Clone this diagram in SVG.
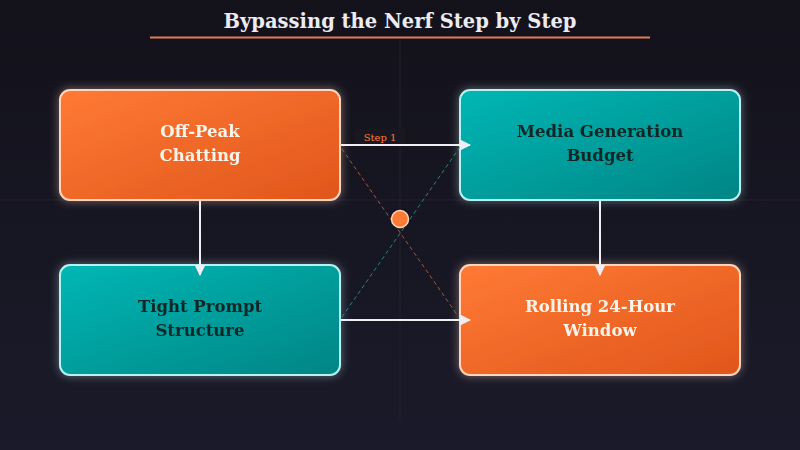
<svg xmlns="http://www.w3.org/2000/svg" width="800" height="450" viewBox="0 0 800 450">
<style>
.title{font-family:Georgia,"DejaVu Serif",serif;font-weight:bold;font-size:19.5px;fill:#ecebf2;text-anchor:middle}
.lbl{font-family:Georgia,"DejaVu Serif",serif;font-weight:bold;font-size:16.5px;text-anchor:middle}
.lo{fill:#fff3ea}
.lt{fill:#0c2626}
.bo{fill:url(#gO);stroke:#ffd6bd;stroke-width:2}
.bt{fill:url(#gT);stroke:#b8f2f0;stroke-width:2}
.conn{stroke:#eeeef4;stroke-width:2;fill:none;marker-end:url(#ah)}
.step{font-family:Georgia,"DejaVu Serif",serif;font-size:10px;fill:#ff7a35;text-anchor:middle}
</style>
<defs>
<linearGradient id="gO" x1="0" y1="0" x2="1" y2="1">
<stop offset="0" stop-color="#ff7a35"/><stop offset="1" stop-color="#e0561b"/>
</linearGradient>
<linearGradient id="gT" x1="0" y1="0" x2="1" y2="1">
<stop offset="0" stop-color="#00b7b5"/><stop offset="1" stop-color="#008584"/>
</linearGradient>
<filter id="glowO" x="-20%" y="-30%" width="140%" height="160%">
<feGaussianBlur in="SourceAlpha" stdDeviation="5" result="b"/>
<feFlood flood-color="#ffcfb0" flood-opacity="0.45"/>
<feComposite in2="b" operator="in" result="g"/>
<feMerge><feMergeNode in="g"/><feMergeNode in="SourceGraphic"/></feMerge>
</filter>
<filter id="glowT" x="-20%" y="-30%" width="140%" height="160%">
<feGaussianBlur in="SourceAlpha" stdDeviation="5" result="b"/>
<feFlood flood-color="#c8f5f2" flood-opacity="0.4"/>
<feComposite in2="b" operator="in" result="g"/>
<feMerge><feMergeNode in="g"/><feMergeNode in="SourceGraphic"/></feMerge>
</filter>
<marker id="ah" viewBox="0 0 10 10" refX="9" refY="5" markerWidth="11" markerHeight="11" orient="auto" markerUnits="userSpaceOnUse">
<path d="M0,0 L10,5 L0,10 Z" fill="#eeeef4"/>
</marker>
<linearGradient id="bg" x1="0" y1="0" x2="0" y2="1">
<stop offset="0" stop-color="#13121b"/><stop offset="1" stop-color="#1a1a2a"/>
</linearGradient>
</defs>
<rect width="800" height="450" fill="url(#bg)"/>
<g id="grid" stroke="#2a2836" stroke-width="1" opacity="0.6">
<line x1="400" y1="40" x2="400" y2="420"/>
<line x1="0" y1="200" x2="800" y2="200"/>
</g>
<g id="title">
<text class="title" x="400" y="28">Bypassing the Nerf Step by Step</text>
<line x1="150" y1="37.5" x2="650" y2="37.5" stroke="#e57b52" stroke-width="2"/>
</g>
<g id="node-offpeak" filter="url(#glowO)">
<rect class="bo" x="60" y="90" width="280" height="110" rx="10"/>
<text class="lbl lo" x="200" y="137">Off-Peak</text>
<text class="lbl lo" x="200" y="161">Chatting</text>
</g>
<g id="node-media" filter="url(#glowT)">
<rect class="bt" x="460" y="90" width="280" height="110" rx="10"/>
<text class="lbl lt" x="600" y="137">Media Generation</text>
<text class="lbl lt" x="600" y="161">Budget</text>
</g>
<g id="node-tight" filter="url(#glowT)">
<rect class="bt" x="60" y="265" width="280" height="110" rx="10"/>
<text class="lbl lt" x="200" y="312">Tight Prompt</text>
<text class="lbl lt" x="200" y="336">Structure</text>
</g>
<g id="node-rolling" filter="url(#glowO)">
<rect class="bo" x="460" y="265" width="280" height="110" rx="10"/>
<text class="lbl lo" x="600" y="312">Rolling 24-Hour</text>
<text class="lbl lo" x="600" y="336">Window</text>
</g>
<g id="connectors">
<line x1="342" y1="149" x2="458" y2="316" stroke="#c86a45" stroke-width="1" stroke-dasharray="4,3" opacity="0.8"/>
<line x1="342" y1="317" x2="460" y2="147" stroke="#2f9e9c" stroke-width="1" stroke-dasharray="4,3" opacity="0.8"/>
<rect x="355" y="129" width="50" height="16" fill="#1a1820" opacity="0.9"/>
<text class="step" x="380" y="141">Step 1</text>
<line class="conn" x1="341" y1="145" x2="470" y2="145"/>
<line class="conn" x1="341" y1="320" x2="470" y2="320"/>
<line class="conn" x1="200" y1="201" x2="200" y2="275"/>
<line class="conn" x1="600" y1="201" x2="600" y2="275"/>
<circle cx="400" cy="219" r="8.5" fill="#ff7a35" stroke="#ffd6bd" stroke-width="1.5"/>
</g>
</svg>
